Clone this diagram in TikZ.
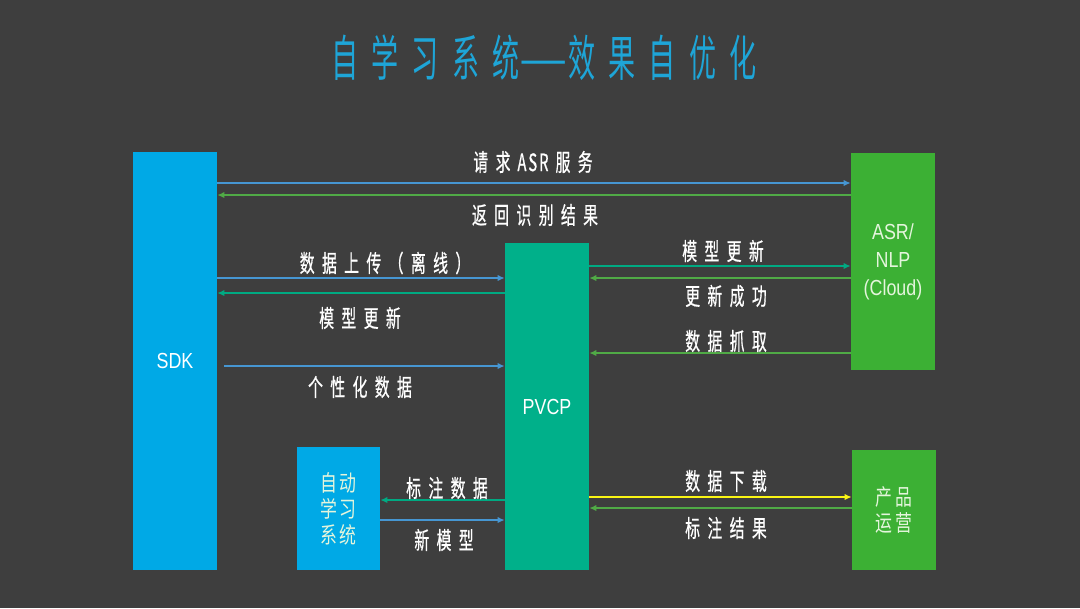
\documentclass[tikz,border=0pt]{standalone}
\usepackage{fontspec}
\usetikzlibrary{arrows.meta, positioning, calc}
\newfontfamily\cjktitle{Noto Sans CJK SC}[FakeStretch=0.55, LetterSpace=27]
\newfontfamily\cjklabel{Noto Sans CJK SC}[FakeStretch=0.62, LetterSpace=31, FakeBold=0.6]
\newfontfamily\cjkbox{Noto Sans CJK SC}[FakeStretch=0.75, LetterSpace=12]
\newfontfamily\boxfont{Liberation Sans}[FakeStretch=0.82]
\newcommand{\tight}[1]{\hspace{5pt}{\addfontfeature{LetterSpace=8}#1}\hspace{5pt}}
\definecolor{bggray}{RGB}{62,62,62}
\definecolor{sdkblue}{RGB}{0,169,230}
\definecolor{pvcpteal}{RGB}{0,176,138}
\definecolor{cloudgreen}{RGB}{60,176,52}
\definecolor{titleblue}{RGB}{30,165,215}
\definecolor{arrowblue}{RGB}{70,150,210}
\definecolor{arrowgreen}{RGB}{80,170,70}
\definecolor{arrowteal}{RGB}{0,170,130}
\definecolor{arrowyellow}{RGB}{250,245,20}
\definecolor{paletext}{RGB}{228,245,220}
\tikzset{
	module/.style={rectangle, inner sep=0pt, minimum width=2.1cm, text=white, align=center,
		font=\boxfont\fontsize{15.5}{20}\selectfont},
	sdkmod/.style={module, fill=sdkblue},
	pvcpmod/.style={module, fill=pvcpteal},
	cloudmod/.style={module, fill=cloudgreen, text=paletext},
	learnmod/.style={module, fill=sdkblue, text=paletext, font=\cjkbox\fontsize{16}{18.5}\selectfont},
	msg/.style={draw, line width=1.2pt, -{Latex[length=5pt,width=4.5pt]}},
	lbl/.style={text=white, inner sep=0pt, font=\cjklabel\fontsize{17}{18}\selectfont}
}
\begin{document}
\begin{tikzpicture}[x=0.025cm, y=-0.025cm]
	\fill[bggray] (0,0) rectangle (1080,608);
	% Title
	\node[text=titleblue, font=\cjktitle\fontsize{35}{40}\selectfont] (title) at (544,58)
		{自学习系统{\addfontfeature{FakeStretch=1.1}—}效果自优化};

	% Modules
	\node[sdkmod, minimum height=10.45cm] (sdk) at (175,361) {SDK};
	\node[pvcpmod, minimum height=8.175cm] (pvcp) at (547,406.5) {PVCP};
	\node[cloudmod, minimum height=5.425cm] (cloud) at (893,261.5) {ASR/\\NLP\\(Cloud)};
	\node[cloudmod, minimum height=3cm, font=\cjkbox\fontsize{16}{18.5}\selectfont] (ops) at (894,510) {产品\\运营};
	\node[learnmod, minimum width=2.075cm, minimum height=3.075cm] (learn) at (338.5,508.5) {自动\\学习\\系统};

	% SDK <-> Cloud
	\draw[msg, arrowblue] (sdk.east |- 0,183) -- (cloud.west |- 0,183);
	\draw[msg, arrowgreen] (cloud.west |- 0,195) -- (sdk.east |- 0,195);
	\node[lbl] (l-req) at (533,162) {请求\tight{ASR}服务};
	\node[lbl] (l-ret) at (535,215) {返回识别结果};

	% SDK <-> PVCP
	\draw[msg, arrowblue] (sdk.east |- 0,278) -- (pvcp.west |- 0,278);
	\draw[msg, arrowteal] (pvcp.west |- 0,293) -- (sdk.east |- 0,293);
	\draw[msg, arrowblue, shorten <=5pt] (sdk.east |- 0,366) -- (pvcp.west |- 0,366);
	\node[lbl] (l-up) at (385,263) {数据上传（离线）};
	\node[lbl] (l-mod1) at (360,318) {模型更新};
	\node[lbl] (l-pers) at (360,387) {个性化数据};

	% PVCP <-> Cloud
	\draw[msg, arrowteal] (pvcp.east |- 0,266) -- (cloud.west |- 0,266);
	\draw[msg, arrowgreen] (cloud.west |- 0,278) -- (pvcp.east |- 0,278);
	\draw[msg, arrowgreen] (cloud.west |- 0,353) -- (pvcp.east |- 0,353);
	\node[lbl] (l-mod2) at (723,251) {模型更新};
	\node[lbl] (l-ok) at (726,296) {更新成功};
	\node[lbl] (l-grab) at (726,341) {数据抓取};

	% PVCP <-> learning system
	\draw[msg, arrowteal] (pvcp.west |- 0,500) -- (learn.east |- 0,500);
	\draw[msg, arrowblue] (learn.east |- 0,520) -- (pvcp.west |- 0,520);
	\node[lbl] (l-mark) at (447,488) {标注数据};
	\node[lbl] (l-new) at (444,540) {新模型};

	% PVCP <-> operations
	\draw[msg, arrowyellow, line width=2pt] (pvcp.east |- 0,497) -- (ops.west |- 0,497);
	\draw[msg, arrowgreen] (ops.west |- 0,508) -- (pvcp.east |- 0,508);
	\node[lbl] (l-down) at (726,481) {数据下载};
	\node[lbl] (l-res) at (726,528) {标注结果};
\end{tikzpicture}
\end{document}
